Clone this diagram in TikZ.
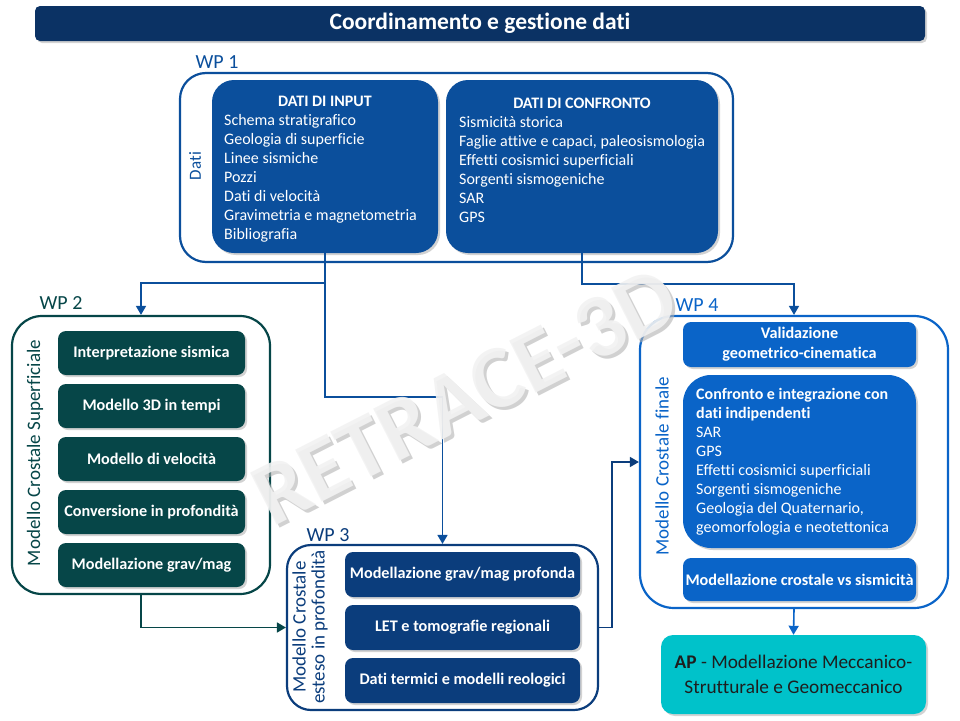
\documentclass[tikz,border=0pt]{standalone}
\usepackage{fontspec}
\setmainfont{Carlito}[Ligatures=NoCommon]
\usetikzlibrary{positioning,arrows.meta,shadows}
\definecolor{RTNavy}{HTML}{0B3264}
\definecolor{RTBlue}{HTML}{0B4F9C}
\definecolor{RTDeep}{HTML}{0B3D7C}
\definecolor{RTBright}{HTML}{0A64C8}
\definecolor{RTTeal}{HTML}{064648}
\definecolor{RTCyan}{HTML}{00C2CA}
\definecolor{RTInk}{HTML}{1E1E1E}
\tikzset{
    % Outer work package frame
    wpframe/.style={
        draw,
        fill=white,
        line width=2.2pt,
        rounded corners=28pt,
        inner sep=0pt
    },
    % Filled task box
    taskbox/.style={
        rounded corners=8pt,
        inner sep=0pt,
        text=white,
        align=center,
        font=\fontsize{16.2}{20}\selectfont\bfseries,
        drop shadow={opacity=0.35,shadow xshift=2pt,shadow yshift=-2pt}
    },
    % WP label above frame
    wplabel/.style={
        font=\fontsize{20}{22}\selectfont
    },
    % Rotated side label
    sidelabel/.style={
        rotate=90,
        align=center,
        font=\fontsize{19}{19}\selectfont
    },
    % Plain list text
    listtext/.style={
        text=white,
        align=left,
        inner sep=0pt,
        font=\fontsize{16}{19}\selectfont
    },
    % Connector
    myarrow/.style={
        -{Triangle[length=9pt,width=10pt]},
        line width=1.6pt
    }
}

\begin{document}
\begin{tikzpicture}[x=1pt,y=-1pt]
    \useasboundingbox (0,0) rectangle (960,720);

    % banner
    \node[taskbox, fill=RTNavy, rounded corners=5pt, minimum width=890pt, minimum height=35pt,
          font=\fontsize{23.5}{24}\selectfont\bfseries] (coord) at (480,23.5) {Coordinamento e gestione dati};

    % WP 1
    \node[wpframe, draw=RTBlue, rounded corners=26pt, minimum width=553pt, minimum height=189pt] (wp1) at (456.5,167.5) {};
    \node[wplabel, text=RTBlue] (wp1lab) at (217,62) {WP 1};
    \node[sidelabel, text=RTBlue, font=\fontsize{17}{19}\selectfont] (datilab) at (195,166) {Dati};
    \node[taskbox, fill=RTBlue, rounded corners=22pt, minimum width=226pt, minimum height=173pt] (input) at (325,166.5) {};
    \node[taskbox, fill=RTBlue, rounded corners=22pt, minimum width=272pt, minimum height=173pt] (conf) at (582,166.5) {};
    \node[listtext, font=\fontsize{16}{19}\selectfont\bfseries] (inputtit) at (325,101) {DATI DI INPUT};
    \node[listtext, font=\fontsize{16}{19}\selectfont\bfseries] (conftit) at (582,103) {DATI DI CONFRONTO};
    \node[listtext, anchor=north west] (inputlist) at (224,114) {Schema stratigrafico\\Geologia di superficie\\Linee sismiche\\Pozzi\\Dati di velocità\\Gravimetria e magnetometria\\Bibliografia};
    \node[listtext, anchor=north west] (conflist) at (459,116) {Sismicità storica\\Faglie attive e capaci, paleosismologia\\Effetti cosismici superficiali\\Sorgenti sismogeniche\\SAR\\GPS};

    % WP 2
    \node[wpframe, draw=RTTeal, rounded corners=30pt, minimum width=258pt, minimum height=278pt] (wp2) at (141,455) {};
    \node[wplabel, text=RTTeal] (wp2lab) at (61,303) {WP 2};
    \node[sidelabel, text=RTTeal] (wp2side) at (35,453) {Modello Crostale Superficiale};
    \foreach \name/\y/\txt in {ints/353/{Interpretazione sismica}, tempi/406/{Modello 3D in tempi},
                               velo/459/{Modello di velocità}, conv/512/{Conversione in profondità},
                               grav/565/{Modellazione grav/mag}}
        \node[taskbox, fill=RTTeal, minimum width=187pt, minimum height=44pt] (\name) at (151.5,\y) {\txt};

    % WP 3
    \node[wpframe, draw=RTDeep, rounded corners=24pt, minimum width=311pt, minimum height=165pt] (wp3) at (442.5,627.5) {};
    \node[wplabel, text=RTDeep] (wp3lab) at (328,535) {WP 3};
    \node[sidelabel, text=RTDeep] (wp3side) at (310,627) {Modello Crostale\\esteso in profondità};
    \foreach \name/\y/\txt in {gravp/574.5/{Modellazione grav/mag profonda}, let/627.5/{LET e tomografie regionali},
                               term/680.5/{Dati termici e modelli reologici}}
        \node[taskbox, fill=RTDeep, minimum width=235pt, minimum height=45pt] (\name) at (462.5,\y) {\txt};

    % WP 4
    \node[wpframe, draw=RTBright, rounded corners=34pt, minimum width=308pt, minimum height=292pt] (wp4) at (794,462) {};
    \node[wplabel, text=RTBright] (wp4lab) at (697,305) {WP 4};
    \node[sidelabel, text=RTBright] (wp4side) at (662,466) {Modello Crostale finale};
    \node[taskbox, fill=RTBright, minimum width=233pt, minimum height=45pt] (valid) at (799.5,344.5) {Validazione\\geometrico-cinematica};
    \node[taskbox, fill=RTBright, rounded corners=28pt, minimum width=233pt, minimum height=173pt] (integ) at (799.5,461.5) {};
    \node[listtext, anchor=north west] (integlist) at (696,388) {\textbf{Confronto e integrazione con}\\\textbf{dati indipendenti}\\SAR\\GPS\\Effetti cosismici superficiali\\Sorgenti sismogeniche\\Geologia del Quaternario,\\geomorfologia e neotettonica};
    \node[taskbox, fill=RTBright, minimum width=233pt, minimum height=43pt] (sism) at (799.5,579.5) {Modellazione crostale vs sismicità};

    % AP
    \node[taskbox, fill=RTCyan, text=RTInk, rounded corners=12pt, minimum width=265pt, minimum height=79pt,
          font=\fontsize{19.3}{25}\selectfont] (ap) at (793.5,674.5) {\textbf{AP} - Modellazione Meccanico-\\Strutturale e Geomeccanico};

    % connectors
    \coordinate (split) at (325,283);
    \draw[myarrow, RTBlue] (input.south) -- (split) -| (wp2.north);
    \draw[myarrow, RTBlue] (split) -- ++(0,114) -| (wp3.north);
    \draw[myarrow, RTBlue] (conf.south) -- ++(0,31) -| (wp4.north);
    \draw[myarrow, RTTeal] (wp2.south) |- (wp3.west);
    \draw[myarrow, RTDeep] (wp3.east) -- ++(13,0) |- (wp4.west);
    \draw[myarrow, RTBright] (wp4.south) -- (ap.north);

    % watermark
    \node[rotate=27, text=black!30, opacity=0.6, font=\fontsize{90}{90}\selectfont\bfseries] (markshade) at (468,399) {RETRACE-3D};
    \node[rotate=27, text=black!5, opacity=0.9, font=\fontsize{90}{90}\selectfont\bfseries] (mark) at (465,396) {RETRACE-3D};
\end{tikzpicture}
\end{document}
